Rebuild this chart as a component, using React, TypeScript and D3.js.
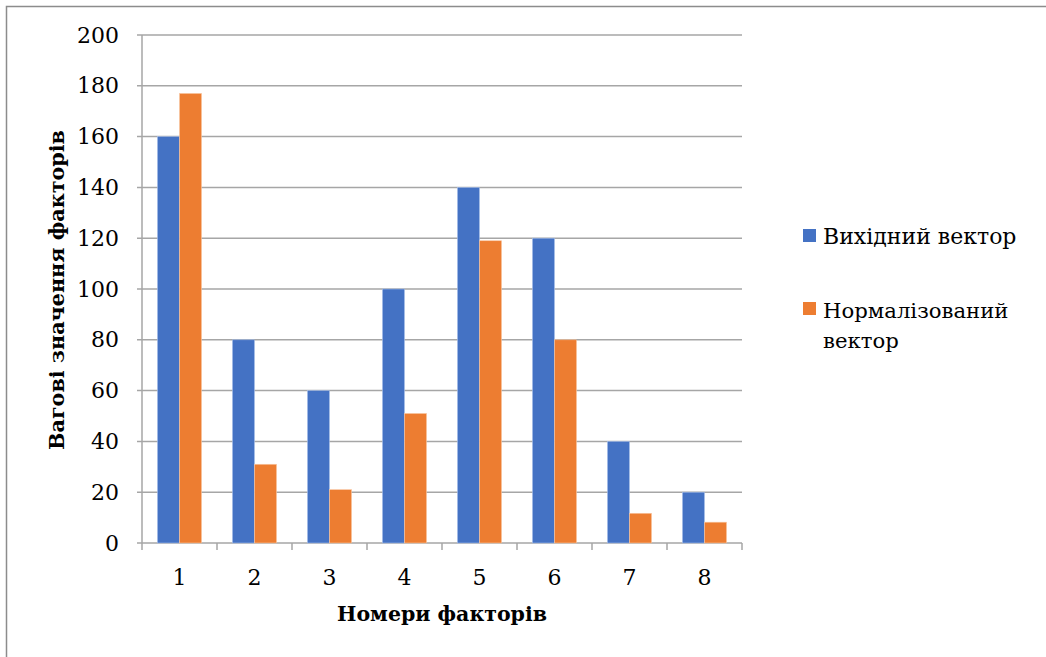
import React from "react";
import * as d3 from "d3";

const categories = ["1", "2", "3", "4", "5", "6", "7", "8"];
const originalVector = [160, 80, 60, 100, 140, 120, 40, 20];
const normalizedVector = [177, 31, 21, 51, 119, 80, 11.7, 8.2];
const yTicks = [0, 20, 40, 60, 80, 100, 120, 140, 160, 180, 200];
const seriesNames = ["Вихідний вектор", "Нормалізований вектор"];
const colors = ["#4472C4", "#ED7D31"];

export default function App() {
  const W = 1046, H = 657;
  const left = 142, right = 742, top = 35, bottom = 543;
  const x = d3.scaleBand<string>().domain(categories).range([left, right]).paddingInner(0).paddingOuter(0);
  const y = d3.scaleLinear().domain([0, 200]).range([bottom, top]);
  const inner = d3.scaleBand<number>().domain([0, 1]).range([0, x.bandwidth()]).paddingOuter(0.7).paddingInner(0);
  const font = "'DejaVu Serif', 'Liberation Serif', serif";
  const series = [originalVector, normalizedVector];
  const grid = "#a6a6a6";
  const ts = { fontFamily: font };
  return (
    <svg width={W} height={H} style={{ position: "absolute", left: 0, top: 0, fontFamily: font }}>
      <rect x={0} y={0} width={W} height={H} fill="#fff" />
      <rect x={6.5} y={6.5} width={1045} height={670} fill="none" stroke="#8c8c8c" strokeWidth={1.5} />
      {yTicks.map((t) => (
        <g key={t}>
          <line x1={left - 5} x2={right} y1={y(t)} y2={y(t)} stroke={grid} strokeWidth={1.5} />
          <text x={119} y={y(t) + 7.5} textAnchor="end" fontSize={22} fill="#000" style={ts}>{t}</text>
        </g>
      ))}
      <line x1={left} x2={left} y1={top} y2={bottom} stroke={grid} strokeWidth={1.5} />
      {categories.map((c, i) =>
        series.map((s, k) => (
          <rect key={c + k} x={(x(c) as number) + (inner(k) as number)} y={y(s[i])}
            width={inner.bandwidth()} height={bottom - y(s[i])} fill={colors[k]}
            stroke={k === 0 ? "#a9c0ea" : "#f8c9a6"} strokeWidth={0.6} />
        ))
      )}
      {[...categories.map((c) => x(c) as number), right].map((tx, i) => (
        <line key={i} x1={tx} x2={tx} y1={bottom} y2={bottom + 7} stroke={grid} strokeWidth={1.5} />
      ))}
      {categories.map((c) => (
        <text key={c} x={(x(c) as number) + x.bandwidth() / 2} y={585} textAnchor="middle" fontSize={22} style={ts}>{c}</text>
      ))}
      <text x={442} y={621} textAnchor="middle" fontSize={20.5} fontWeight="bold" style={ts}>Номери факторів</text>
      <text transform="translate(64,290) rotate(-90)" textAnchor="middle" fontSize={20.7} fontWeight="bold" style={ts}>Вагові значення факторів</text>
      <rect x={803} y={229} width={13} height={13} fill={colors[0]} />
      <text x={823} y={244} fontSize={22} style={ts}>{seriesNames[0]}</text>
      <rect x={803} y={302} width={13} height={13} fill={colors[1]} />
      <text x={823} y={318} fontSize={21.2} style={ts}>Нормалізований</text>
      <text x={823} y={348} fontSize={21.2} style={ts}>вектор</text>
    </svg>
  );
}
